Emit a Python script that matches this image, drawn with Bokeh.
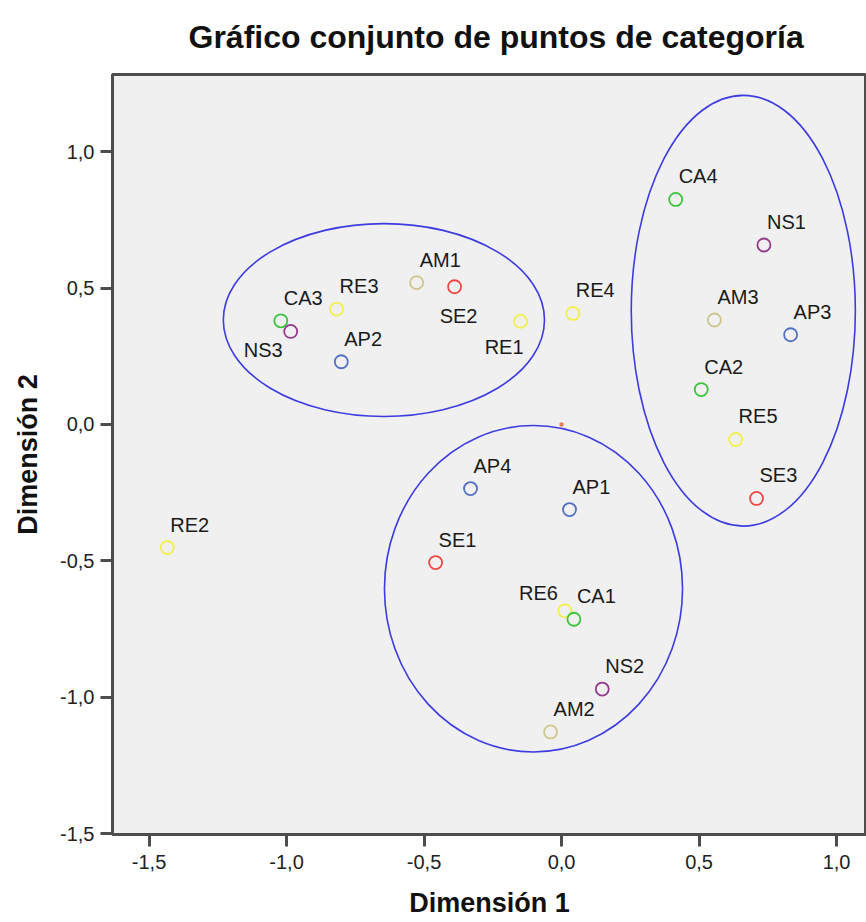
from bokeh.plotting import figure
from bokeh.models import Range1d, FixedTicker, ColumnDataSource
from bokeh.core.properties import value
from bokeh.embed import file_html
from bokeh.resources import INLINE

# ---- data ----
categories = ["AP1", "AP2", "AP3", "AP4",
              "RE1", "RE2", "RE3", "RE4", "RE5", "RE6",
              "CA1", "CA2", "CA3", "CA4",
              "SE1", "SE2", "SE3",
              "NS1", "NS2", "NS3",
              "AM1", "AM2", "AM3"]
dim1 = [0.029, -0.801, 0.833, -0.331,
        -0.149, -1.434, -0.818, 0.041, 0.633, 0.012,
        0.045, 0.508, -1.021, 0.415,
        -0.458, -0.389, 0.709,
        0.736, 0.148, -0.985,
        -0.527, -0.040, 0.556]
dim2 = [-0.312, 0.230, 0.329, -0.235,
        0.378, -0.451, 0.423, 0.407, -0.055, -0.683,
        -0.714, 0.128, 0.380, 0.825,
        -0.506, 0.505, -0.271,
        0.658, -0.970, 0.341,
        0.520, -1.127, 0.383]
origin_x = [0.0]
origin_y = [0.0]

# group ellipses (center x, center y, width, height) in data units
ell_x = [-0.646, 0.661, -0.102]
ell_y = [0.383, 0.417, -0.602]
ell_w = [1.168, 0.815, 1.084]
ell_h = [0.707, 1.580, 1.197]

x_ticks = [-1.5, -1.0, -0.5, 0.0, 0.5, 1.0]
x_tick_labels = ["-1,5", "-1,0", "-0,5", "0,0", "0,5", "1,0"]
y_ticks = [-1.5, -1.0, -0.5, 0.0, 0.5, 1.0]
y_tick_labels = ["-1,5", "-1,0", "-0,5", "0,0", "0,5", "1,0"]

# ---- styles ----
group_colors = {"AP": "#5470c4", "RE": "#f2f04e", "CA": "#3cc43c",
                "SE": "#f04646", "NS": "#96398c", "AM": "#cfc68c"}
colors = [group_colors[c[:2]] for c in categories]

# label placement (pixels), default: up-right of the point
special = {"NS3": (-8, 19, "right"), "SE2": (4, 29, "center"),
           "RE1": (3, 26, "right"), "RE6": (-7, -18, "right")}
dx, dy, align = [], [], []
for c in categories:
    a, b, al = special.get(c, (3, -23, "left"))
    dx.append(a); dy.append(b); align.append(al)

src = ColumnDataSource(dict(x=dim1, y=dim2, label=categories, color=colors,
                            dx=dx, dy=dy, align=align))

FONT = "Liberation Sans"
DARK = "#4d4d4d"

p = figure(width=866, height=920, output_backend="svg", toolbar_location=None,
           x_range=Range1d(-1.633, 1.109), y_range=Range1d(-1.503, 1.283),
           min_border_left=112, min_border_right=0, min_border_top=74,
           min_border_bottom=84)

p.title.text = "Gráfico conjunto de puntos de categoría"
p.title.align = "left"
p.title.vertical_align = "top"
p.title.offset = 76
p.title.standoff = 36
p.title.text_font = FONT
p.title.text_font_size = "32px"
p.title.text_font_style = "bold"
p.title.text_color = "#111111"

p.background_fill_color = "#f0f0f0"
p.border_fill_color = "white"
p.outline_line_color = DARK
p.outline_line_width = 3
p.grid.visible = False

for ax, ticks, labels, name in ((p.xaxis[0], x_ticks, x_tick_labels, "Dimensión 1"),
                                (p.yaxis[0], y_ticks, y_tick_labels, "Dimensión 2")):
    ax.ticker = FixedTicker(ticks=ticks)
    ax.major_label_overrides = {t: l for t, l in zip(ticks, labels)}
    ax.axis_line_color = DARK
    ax.axis_line_width = 3
    ax.major_tick_out = 12
    ax.major_tick_in = 0
    ax.major_tick_line_color = DARK
    ax.major_tick_line_width = 3
    ax.minor_tick_line_color = None
    ax.major_label_text_font = FONT
    ax.major_label_text_font_size = "20px"
    ax.major_label_text_color = "#222222"
    ax.axis_label = name
    ax.axis_label_text_font = FONT
    ax.axis_label_text_font_size = "27px"
    ax.axis_label_text_font_style = "bold"
    ax.axis_label_text_color = "#111111"

p.xaxis[0].major_label_standoff = 8
p.xaxis[0].axis_label_standoff = 16
p.yaxis[0].major_label_standoff = 6
p.yaxis[0].axis_label_standoff = 14

p.ellipse(x=ell_x, y=ell_y, width=ell_w, height=ell_h, fill_color=None,
          line_color="#3c3ce0", line_width=1.6)

p.scatter(x=origin_x, y=origin_y, size=3, marker="square", color="#e0805a")

p.scatter(x="x", y="y", source=src, size=13, marker="circle", fill_color=None,
          line_color="color", line_width=1.8)

p.text(x="x", y="y", text="label", source=src, x_offset="dx", y_offset="dy",
       text_align="align", text_baseline="middle", text_font=value(FONT),
       text_font_size="20px", text_color="#1a1a1a")

open("out.html", "w").write(file_html(p, INLINE))
